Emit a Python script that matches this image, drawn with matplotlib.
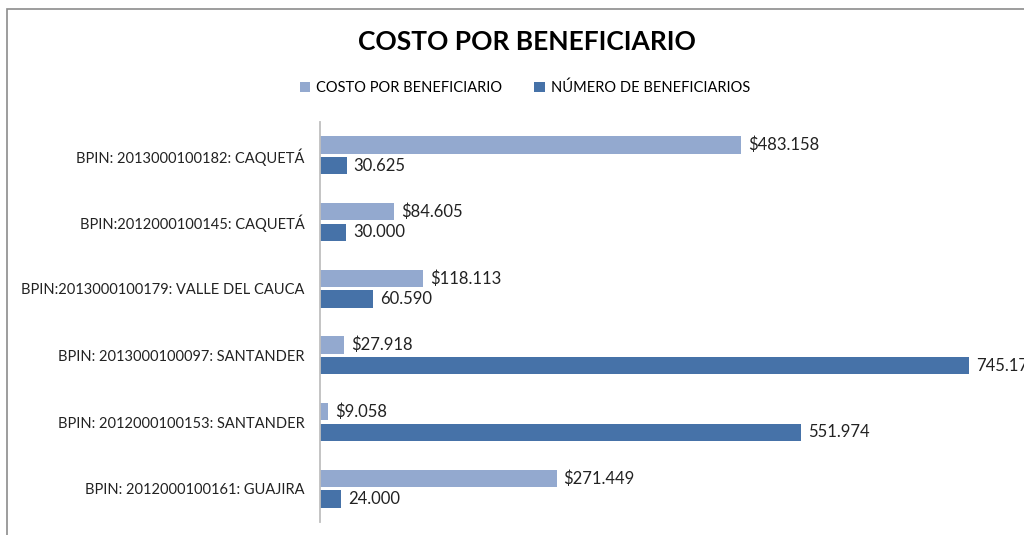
import numpy as np
import matplotlib.pyplot as plt
from matplotlib.patches import Rectangle

plt.rcParams['font.family'] = ['Lato', 'DejaVu Sans']

proyectos = ['BPIN: 2013000100182: CAQUETÁ',
             'BPIN:2012000100145: CAQUETÁ',
             'BPIN:2013000100179: VALLE DEL CAUCA',
             'BPIN: 2013000100097: SANTANDER',
             'BPIN: 2012000100153: SANTANDER',
             'BPIN: 2012000100161: GUAJIRA']
costo = [483158, 84605, 118113, 27918, 9058, 271449]
beneficiarios = [30625, 30000, 60590, 745170, 551974, 24000]


def miles(v):
    return '{:,}'.format(v).replace(',', '.')


fig = plt.figure(figsize=(10.24, 5.35), dpi=100)
ax = fig.add_axes([320 / 1024, 1 - 522 / 535, 1 - 320 / 1024, 400 / 535])

y = np.arange(len(proyectos))
h = 0.26
c1 = '#93a9cf'
c2 = '#4672a8'
ax.barh(y - 0.155, costo, height=h, color=c1, label='COSTO POR BENEFICIARIO')
ax.barh(y + 0.155, beneficiarios, height=h, color=c2, label='NÚMERO DE BENEFICIARIOS')

for i in range(len(proyectos)):
    ax.text(costo[i] + 8000, y[i] - 0.155, '$' + miles(costo[i]),
            va='center', ha='left', fontsize=12, color='#222222')
    ax.text(beneficiarios[i] + 8000, y[i] + 0.155, miles(beneficiarios[i]),
            va='center', ha='left', fontsize=12, color='#222222')

ax.set_xlim(0, 808000)
ax.set_ylim(len(proyectos) - 0.5, -0.5)
ax.set_yticks(y)
ax.set_yticklabels(proyectos, fontsize=10.5, color='#222222')
ax.tick_params(axis='y', length=0, pad=11)
ax.set_xticks([])
for s in ['top', 'right', 'bottom']:
    ax.spines[s].set_visible(False)
ax.spines['left'].set_color('#bfbfbf')
ax.spines['left'].set_linewidth(1.3)

fig.text(527 / 1024, 1 - 42 / 535, 'COSTO POR BENEFICIARIO', ha='center', va='center',
         fontsize=19, fontweight='bold', color='black')
fig.legend(loc='center', bbox_to_anchor=(525 / 1024, 1 - 88 / 535), ncol=2,
           frameon=False, fontsize=10.5, handlelength=0.7, handleheight=0.7,
           handletextpad=0.4, columnspacing=2.2)

fig.patches.append(Rectangle((7 / 1024, -0.1), 1.2, 1 - 9 / 535 + 0.1, transform=fig.transFigure,
                             fill=False, edgecolor='#8c8c8c', linewidth=1.2))

fig.savefig('out.png', dpi=100)
